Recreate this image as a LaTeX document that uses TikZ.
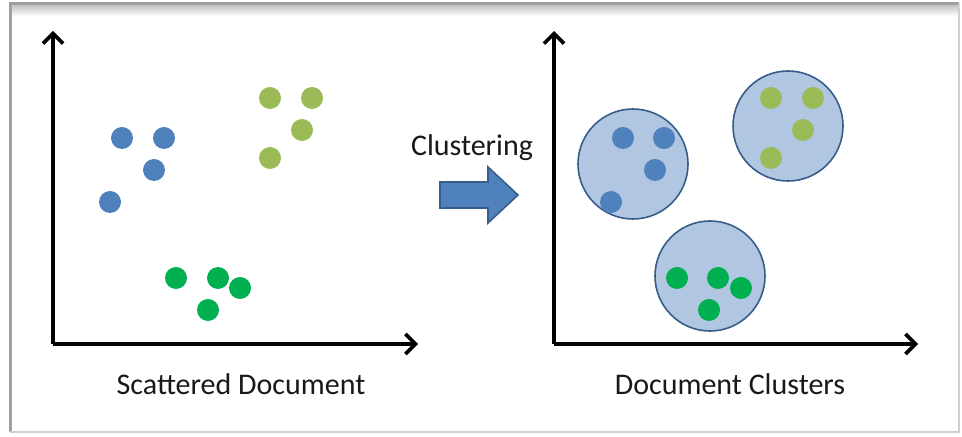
\documentclass[tikz,border=0pt]{standalone}
\usepackage{fontspec}
\setmainfont{Carlito}
\usetikzlibrary{arrows.meta, positioning}
\definecolor{docblue}{RGB}{79, 129, 189}
\definecolor{docolive}{RGB}{155, 187, 89}
\definecolor{docgreen}{RGB}{0, 176, 80}
\definecolor{clusterfill}{RGB}{176, 198, 225}
\definecolor{clusterline}{RGB}{56, 93, 138}
\definecolor{framegray}{RGB}{160, 160, 160}
\tikzset{
    dot/.style={circle, inner sep=0pt, minimum size=11pt},
    cluster/.style={circle, draw=clusterline, fill=clusterfill, line width=0.8pt, inner sep=0pt, minimum size=55pt},
    axis/.style={line width=1.8pt, -{Straight Barb[length=5pt, width=10pt]}},
    caption/.style={font=\fontsize{15}{18}\selectfont, text=black!90}
}
\begin{document}
\begin{tikzpicture}[x=0.5pt, y=-0.5pt]
                    \useasboundingbox (0, 0) rectangle (962, 437);
                    \shade[top color=framegray!70, bottom color=white] (10, 4) rectangle (959, 16);
                    \draw[framegray, line width=1.5pt] (10, 432) -- (10, 4) -- (959, 4);
                    \draw[framegray!50, line width=1pt] (959, 4) -- (959, 432) -- (10, 432);

                    % left panel: axes
                    \coordinate (L0) at (53, 344);
                    \coordinate (Ly) at (53, 31);
                    \coordinate (Lx) at (418, 344);
                    \draw[axis] (L0) -- (Ly);
                    \draw[axis] (L0) -- (Lx);

                    % left panel: points
                    \node[dot, fill=docblue] (Lb1) at (122, 138) {};
                    \node[dot, fill=docblue] (Lb2) at (164, 138) {};
                    \node[dot, fill=docblue] (Lb3) at (154, 170) {};
                    \node[dot, fill=docblue] (Lb4) at (110, 202) {};
                    \node[dot, fill=docolive] (Lo1) at (270, 98) {};
                    \node[dot, fill=docolive] (Lo2) at (312, 98) {};
                    \node[dot, fill=docolive] (Lo3) at (302, 130) {};
                    \node[dot, fill=docolive] (Lo4) at (270, 158) {};
                    \node[dot, fill=docgreen] (Lg1) at (176, 278) {};
                    \node[dot, fill=docgreen] (Lg2) at (218, 278) {};
                    \node[dot, fill=docgreen] (Lg3) at (240, 288) {};
                    \node[dot, fill=docgreen] (Lg4) at (208, 310) {};

                    \node[caption] (Lcap) at (241, 384) {Scattered Document};

                    % block arrow in the middle
                    \node[caption] (clus) at (472, 148) {Clustering};
                    \draw[clusterline, fill=docblue, line width=0.8pt, line join=miter]
                        (440, 182) -- (488, 182) -- (488, 167) -- (518, 195) -- (488, 223)
                        -- (488, 208) -- (440, 208) -- cycle;

                    % right panel: axes
                    \coordinate (R0) at (554, 344);
                    \coordinate (Ry) at (554, 31);
                    \coordinate (Rx) at (918, 344);
                    \draw[axis] (R0) -- (Ry);
                    \draw[axis] (R0) -- (Rx);

                    % right panel: clusters
                    \node[cluster] (Cb) at (633, 164) {};
                    \node[cluster] (Co) at (788, 126) {};
                    \node[cluster] (Cg) at (710, 276) {};

                    \node[dot, fill=docblue] (Rb1) at (623, 138) {};
                    \node[dot, fill=docblue] (Rb2) at (664, 138) {};
                    \node[dot, fill=docblue] (Rb3) at (655, 170) {};
                    \node[dot, fill=docblue] (Rb4) at (611, 202) {};
                    \node[dot, fill=docolive] (Ro1) at (771, 98) {};
                    \node[dot, fill=docolive] (Ro2) at (813, 98) {};
                    \node[dot, fill=docolive] (Ro3) at (803, 130) {};
                    \node[dot, fill=docolive] (Ro4) at (771, 158) {};
                    \node[dot, fill=docgreen] (Rg1) at (677, 278) {};
                    \node[dot, fill=docgreen] (Rg2) at (718, 278) {};
                    \node[dot, fill=docgreen] (Rg3) at (741, 288) {};
                    \node[dot, fill=docgreen] (Rg4) at (709, 310) {};

                    \node[caption] (Rcap) at (730, 384) {Document Clusters};
            \end{tikzpicture}
\end{document}
